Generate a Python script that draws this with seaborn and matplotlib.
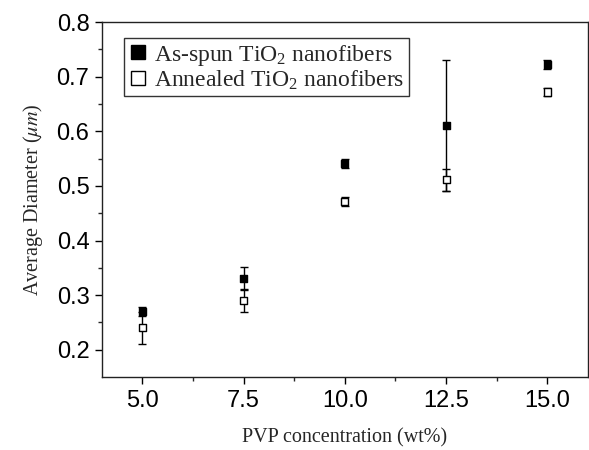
import numpy as np
import pandas as pd
import matplotlib
matplotlib.use("Agg")
import matplotlib.pyplot as plt
import seaborn as sns

# PVP concentration (wt%)
pvp = [5.0, 7.5, 10.0, 12.5, 15.0]

# average diameters (um) and error bars
as_spun = [0.27, 0.331, 0.541, 0.611, 0.722]
as_spun_err = [0.008, 0.02, 0.008, 0.12, 0.008]
annealed = [0.24, 0.29, 0.471, 0.511, 0.672]
annealed_err = [0.03, 0.02, 0.008, 0.02, 0.008]

labels = ["As-spun TiO$_2$ nanofibers", "Annealed TiO$_2$ nanofibers"]

sns.set_theme(style="ticks")
plt.rcParams['font.family'] = ['Liberation Sans', 'DejaVu Sans']
plt.rcParams['mathtext.fontset'] = 'stix'
plt.rcParams['mathtext.default'] = 'regular'

df = pd.DataFrame({
    'pvp': pvp * 2,
    'diameter': as_spun + annealed,
    'err': as_spun_err + annealed_err,
    'sample': [labels[0]] * len(pvp) + [labels[1]] * len(pvp),
})

fig = plt.figure(figsize=(5.89, 4.5), dpi=100)
ax = fig.add_axes([0.173, 0.162, 0.825, 0.789])

# error bars first, then markers on top
for name, sub in df.groupby('sample', sort=False):
    ax.errorbar(sub['pvp'], sub['diameter'], yerr=sub['err'], fmt='none',
                ecolor='black', elinewidth=1.0, capsize=3, capthick=1.0, zorder=2)

sns.scatterplot(data=df, x='pvp', y='diameter', hue='sample', style='sample',
                markers={labels[0]: 's', labels[1]: 's'},
                palette={labels[0]: 'black', labels[1]: 'white'},
                edgecolor='black', linewidth=1.0, s=26, ax=ax, zorder=3)

ax.set_xlim(4.0, 16.0)
ax.set_ylim(0.15, 0.8)
ax.set_xticks(pvp)
ax.set_xticklabels(['5.0', '7.5', '10.0', '12.5', '15.0'])
ax.set_yticks([0.2, 0.3, 0.4, 0.5, 0.6, 0.7, 0.8])
ax.set_yticklabels(['0.2', '0.3', '0.4', '0.5', '0.6', '0.7', '0.8'])
ax.set_xticks([6.25, 8.75, 11.25, 13.75], minor=True)
ax.set_yticks(np.arange(0.25, 0.8, 0.1), minor=True)
ax.tick_params(which='major', direction='out', length=5, width=1.0,
               labelsize=17, colors='black', pad=4)
ax.tick_params(which='minor', direction='out', length=3, width=1.0)
for s in ax.spines.values():
    s.set_linewidth(1.0)
    s.set_color('#222222')

serif = ['Liberation Serif', 'DejaVu Serif']
ax.set_xlabel('PVP concentration (wt%)', family=serif, fontsize=14.5, labelpad=12)
ax.set_ylabel('Average Diameter ($\\mathit{\\mu m}$)', family=serif, fontsize=14.5, labelpad=8)

handles, _ = ax.get_legend_handles_labels()
leg = ax.legend(handles=handles, labels=labels, loc='upper left',
                bbox_to_anchor=(0.045, 0.955), borderaxespad=0, frameon=True,
                fancybox=False, edgecolor='black',
                prop={'family': serif, 'size': 17},
                handletextpad=0.3, borderpad=0.2, labelspacing=0.02,
                handlelength=0.8, markerscale=2.0)
leg.get_frame().set_linewidth(1.0)

plt.savefig('out.png', dpi=100)
